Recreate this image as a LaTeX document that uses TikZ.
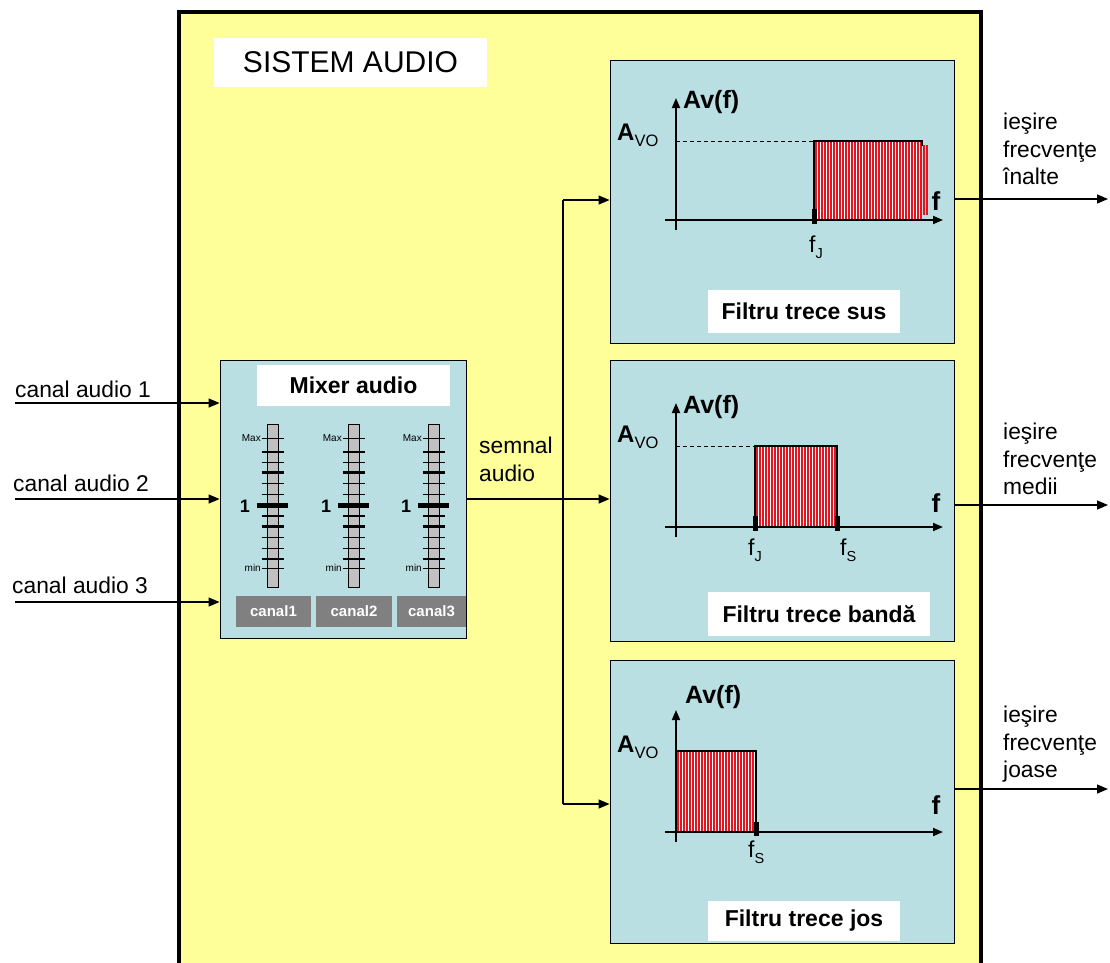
\documentclass[tikz,border=0pt]{standalone}
\usepackage{fontspec}
\setmainfont{Liberation Sans}
\usetikzlibrary{arrows.meta}
\definecolor{ylw}{RGB}{255,255,153}
\definecolor{lblue}{RGB}{185,223,227}
\definecolor{hred}{RGB}{222,24,34}
\definecolor{sgray}{RGB}{192,192,192}
\definecolor{bgray}{RGB}{128,128,128}
\newcommand{\avo}{{\bfseries\fontsize{24}{24}\selectfont A}\raisebox{-6.5pt}{\fontsize{16.5}{16.5}\selectfont VO}}
\newcommand{\fsb}[1]{{\fontsize{23}{23}\selectfont f}\raisebox{-6pt}{\fontsize{14.5}{14.5}\selectfont #1}}
\begin{document}
\begin{tikzpicture}[x=1pt,y=-1pt,
  arr/.style={line width=1.3pt,-{Triangle[length=11pt,width=9pt]}},
  conn/.style={line width=1.3pt},
  axisline/.style={line width=1.8pt,-{Triangle[length=10pt,width=8pt]}},
  bluebox/.style={draw=black,line width=0.9pt,fill=lblue,inner sep=0pt},
  wtitle/.style={fill=white,inner sep=0pt,font=\bfseries\fontsize{23}{27}\selectfont},
  btn/.style={fill=bgray,text=white,inner sep=0pt,minimum height=31pt,font=\bfseries\fontsize{15}{18}\selectfont},
  lab/.style={inner sep=0pt,font=\fontsize{22.8}{27.5}\selectfont,align=left},
  tiny/.style={inner sep=0pt,font=\fontsize{10}{11}\selectfont},
  one/.style={inner sep=0pt,font=\bfseries\fontsize{18}{18}\selectfont},
  avf/.style={inner sep=0pt,font=\bfseries\fontsize{25}{25}\selectfont},
  fax/.style={inner sep=0pt,font=\bfseries\fontsize{26}{26}\selectfont},
  hatchline/.style={hred,line width=2pt},
  edge/.style={line width=1.5pt},
  dsh/.style={line width=0.8pt,dash pattern=on 4pt off 3pt}
]
\clip (0,0) rectangle (1110,962);
\fill[white] (0,0) rectangle (1110,962);
% outer system box
\draw[line width=4pt,fill=ylw] (179,980) -- (179,12) -- (981,12) -- (981,980);
\node[fill=white,inner sep=0pt,minimum width=273pt,minimum height=49pt,font=\fontsize{30}{30}\selectfont] (sys) at (350.5,62.5) {SISTEM AUDIO};

% mixer
\node[bluebox,minimum width=246pt,minimum height=278pt] (mixer) at (343,499) {};
\node[wtitle,minimum width=193pt,minimum height=41pt] (mixt) at (353.5,385.5) {Mixer audio};
\foreach \cx in {272.5,353.5,433.5} {
  \draw[fill=sgray,line width=0.8pt] (\cx-5.5,424) rectangle (\cx+5.5,587);
  \foreach \ty in {438.3,451.7,462.3,483.3,494.3,516,537.3,548.3,559,568.3}
    \draw[line width=1.6pt] (\cx-11,\ty) -- (\cx+11,\ty);
  \foreach \ty in {472.7,526.7}
    \draw[line width=2.8pt] (\cx-11,\ty) -- (\cx+11,\ty);
  \draw[line width=5pt] (\cx-15.5,505) -- (\cx+15.5,505);
  \node[tiny,anchor=east] at (\cx-11.5,438.3) {Max};
  \node[tiny,anchor=east] at (\cx-11.5,568.3) {min};
  \node[one] at (\cx-27.5,506) {1};
}
\node[btn,minimum width=75pt] (c1) at (273.5,611.5) {canal1};
\node[btn,minimum width=76pt] (c2) at (354,611.5) {canal2};
\node[btn,minimum width=69pt] (c3) at (431.5,611.5) {canal3};

% inputs
\node[lab,anchor=base west] (l1) at (15,397) {canal audio 1};
\node[lab,anchor=base west] (l2) at (13,491) {canal audio 2};
\node[lab,anchor=base west] (l3) at (12,593) {canal audio 3};
\coordinate (i1) at (15,403);
\coordinate (i2) at (15,499);
\coordinate (i3) at (15,602);
\draw[arr] (i1) -- (i1 -| mixer.west);
\draw[arr] (i2) -- (i2 -| mixer.west);
\draw[arr] (i3) -- (i3 -| mixer.west);

% filter boxes
\node[bluebox,minimum width=344pt,minimum height=283pt] (f1) at (782,201.5) {};
\node[bluebox,minimum width=344pt,minimum height=281pt] (f2) at (782,500.5) {};
\node[bluebox,minimum width=344pt,minimum height=283pt] (f3) at (782,801.5) {};

% ---- filter 1 (high pass)
\fill[white] (814,141) rectangle (922,220);
\foreach \x in {815.5,818.5,...,921} \draw[hatchline] (\x,141) -- (\x,220);
\foreach \x in {923.5,926.5} \draw[hatchline] (\x,145) -- (\x,215);
\draw[edge] (814,220) -- (814,141) -- (922,141) -- (922,146);
\draw[dsh] (676,141) -- (814,141);
\draw[axisline] (676,230) -- (676,98);
\draw[axisline] (665,220) -- (943,220);
\fill (811.5,209) rectangle (816.5,224);
\node[avf,anchor=west] at (683,102) {Av(f)};
\node[inner sep=0pt,anchor=base west] at (617,140) {\avo};
\node[fax] at (936,201) {f};
\node[inner sep=0pt,anchor=base west] at (809,252) {\fsb{J}};
\node[wtitle,minimum width=192pt,minimum height=43pt] (t1) at (804,311.5) {Filtru trece sus};

% ---- filter 2 (band pass)
\fill[white] (755,446) rectangle (837,527);
\foreach \x in {756.5,759.5,...,836} \draw[hatchline] (\x,446) -- (\x,527);
\draw[edge] (755,446) rectangle (837,527);
\draw[dsh] (676,446) -- (755,446);
\draw[axisline] (676,537) -- (676,403);
\draw[axisline] (665,527) -- (943,527);
\fill (752.5,516) rectangle (757.5,531);
\fill (834.5,516) rectangle (839.5,531);
\node[avf,anchor=west] at (683,407) {Av(f)};
\node[inner sep=0pt,anchor=base west] at (617,442) {\avo};
\node[fax] at (936,503) {f};
\node[inner sep=0pt,anchor=base west] at (748,555) {\fsb{J}};
\node[inner sep=0pt,anchor=base west] at (840,555) {\fsb{S}};
\node[wtitle,minimum width=222pt,minimum height=44pt] (t2) at (819,614) {Filtru trece bandă};

% ---- filter 3 (low pass)
\fill[white] (676,751) rectangle (756,832);
\foreach \x in {677.5,680.5,...,755} \draw[hatchline] (\x,751) -- (\x,832);
\draw[edge] (676,751) rectangle (756,832);
\draw[axisline] (676,842) -- (676,710);
\draw[axisline] (665,832) -- (943,832);
\fill (753.5,822) rectangle (758.5,836);
\node[avf,anchor=west] at (685,697) {Av(f)};
\node[inner sep=0pt,anchor=base west] at (617,752) {\avo};
\node[fax] at (936,805) {f};
\node[inner sep=0pt,anchor=base west] at (748,857) {\fsb{S}};
\node[wtitle,minimum width=192pt,minimum height=40pt] (t3) at (804,921) {Filtru trece jos};

% mixer output distribution
\node[lab,anchor=north west] (sem) at (479,437) {semnal\\audio};
\coordinate (jn) at (563,499);
\coordinate (jt) at (563,200);
\coordinate (jb) at (563,804);
\draw[conn] (mixer.east) -- (jn);
\draw[conn] (jt) -- (jb);
\draw[arr] (jt) -- (jt -| f1.west);
\draw[arr] (jn) -- (jn -| f2.west);
\draw[arr] (jb) -- (jb -| f3.west);

% outputs
\coordinate (o1) at (1108,199);
\coordinate (o2) at (1108,505);
\coordinate (o3) at (1108,789);
\draw[arr] (o1 -| f1.east) -- (o1);
\draw[arr] (o2 -| f2.east) -- (o2);
\draw[arr] (o3 -| f3.east) -- (o3);
\node[lab,anchor=north west] (out1) at (1003,113) {ieşire\\frecvenţe\\înalte};
\node[lab,anchor=north west] (out2) at (1003,423) {ieşire\\frecvenţe\\medii};
\node[lab,anchor=north west] (out3) at (1003,706) {ieşire\\frecvenţe\\joase};
\end{tikzpicture}
\end{document}
